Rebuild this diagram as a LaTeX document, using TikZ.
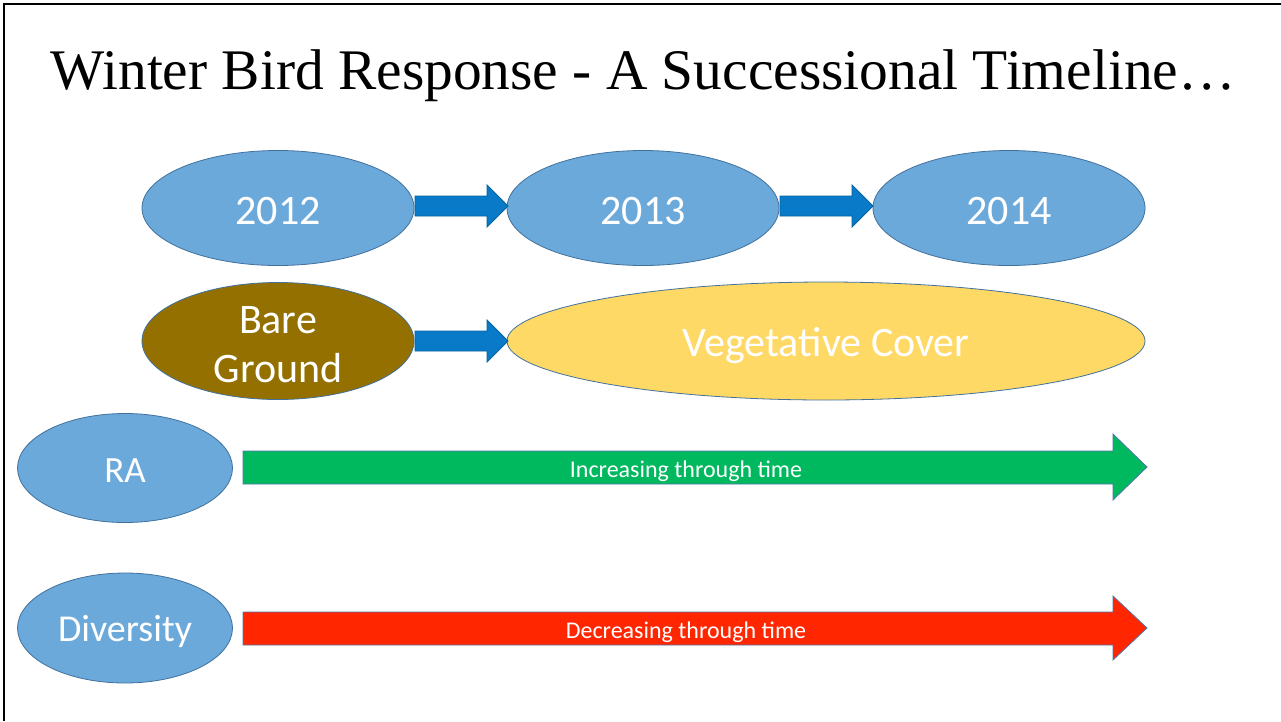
\documentclass[tikz,border=0pt]{standalone}
\usepackage{fontspec}
\setmainfont{Carlito}
\newfontfamily\titlefont{Liberation Serif}
\usetikzlibrary{shapes.geometric}
\definecolor{ellfill}{RGB}{107,169,219}
\definecolor{ellline}{RGB}{65,113,156}
\definecolor{arrblue}{RGB}{8,122,200}
\definecolor{brownfill}{RGB}{148,112,0}
\definecolor{goldfill}{RGB}{255,217,102}
\definecolor{greenfill}{RGB}{0,184,94}
\definecolor{redfill}{RGB}{255,38,0}
\definecolor{arrline}{RGB}{80,120,170}
\newcommand{\lowr}[2]{\raisebox{-#1}[\height][\depth]{#2}}
\tikzset{
  oval/.style={ellipse, draw=ellline, line width=0.8pt, fill=ellfill, text=white, inner sep=0pt, align=center},
  blockarrow/.style={draw=arrline, line width=0.8pt},
  arrtext/.style={text=white, font=\fontsize{24}{28}\selectfont, inner sep=0pt}
}
\begin{document}
\begin{tikzpicture}[x=1pt,y=-1pt]
\useasboundingbox (0,0) rectangle (1281,721);
\fill[white] (0,0) rectangle (1281,721);
% frame
\draw[line width=2pt] (4,721) -- (4,4) -- (1281,4);
% title
\node (title) at (643,76) {\resizebox{1185pt}{!}{\titlefont\fontsize{60}{66}\selectfont Winter Bird Response - A Successional Timeline\ldots}};
% year ellipses
\node[oval, minimum width=272pt, minimum height=115pt, font=\fontsize{42}{46}\selectfont] (y12) at (278,208) {\lowr{3pt}{2012}};
\node[oval, minimum width=272pt, minimum height=115pt, font=\fontsize{42}{46}\selectfont] (y13) at (643,208) {\lowr{3pt}{2013}};
\node[oval, minimum width=272pt, minimum height=115pt, font=\fontsize{42}{46}\selectfont] (y14) at (1009,208) {\lowr{3pt}{2014}};
% blue arrows
\draw[blockarrow, fill=arrblue, draw=arrblue!80!black] (415,196) -- (487,196) -- (487,185) -- (508,206) -- (487,227) -- (487,216) -- (415,216) -- cycle;
\draw[blockarrow, fill=arrblue, draw=arrblue!80!black] (780,196) -- (852,196) -- (852,185) -- (873,206) -- (852,227) -- (852,216) -- (780,216) -- cycle;
% ground / cover
\node[oval, fill=brownfill, minimum width=272pt, minimum height=117pt, font=\fontsize{42}{49}\selectfont] (bare) at (278,341) {\lowr{4pt}{Bare}\\\lowr{4pt}{Ground}};
\node[oval, fill=goldfill, minimum width=638pt, minimum height=118pt, font=\fontsize{42}{46}\selectfont] (veg) at (826,341) {\lowr{5pt}{Vegetative Cover}};
\draw[blockarrow, fill=arrblue, draw=arrblue!80!black] (415,331) -- (487,331) -- (487,320) -- (508,341) -- (487,362) -- (487,351) -- (415,351) -- cycle;
% RA
\node[oval, minimum width=215pt, minimum height=109pt, font=\fontsize{37}{42}\selectfont] (ra) at (125,468) {\lowr{3pt}{RA}};
\draw[blockarrow, fill=greenfill] (243,451) -- (1113,451) -- (1113,434) -- (1147,467) -- (1113,500) -- (1113,484) -- (243,484) -- cycle;
\node[arrtext] (inc) at (686,469) {\lowr{2pt}{Increasing through time}};
% Diversity
\node[oval, minimum width=215pt, minimum height=110pt, font=\fontsize{38}{42}\selectfont] (div) at (125,628) {\lowr{3pt}{Diversity}};
\draw[blockarrow, fill=redfill] (243,612) -- (1113,612) -- (1113,596) -- (1147,628) -- (1113,660) -- (1113,645) -- (243,645) -- cycle;
\node[arrtext] (dec) at (686,630) {\lowr{2pt}{Decreasing through time}};
\end{tikzpicture}
\end{document}
